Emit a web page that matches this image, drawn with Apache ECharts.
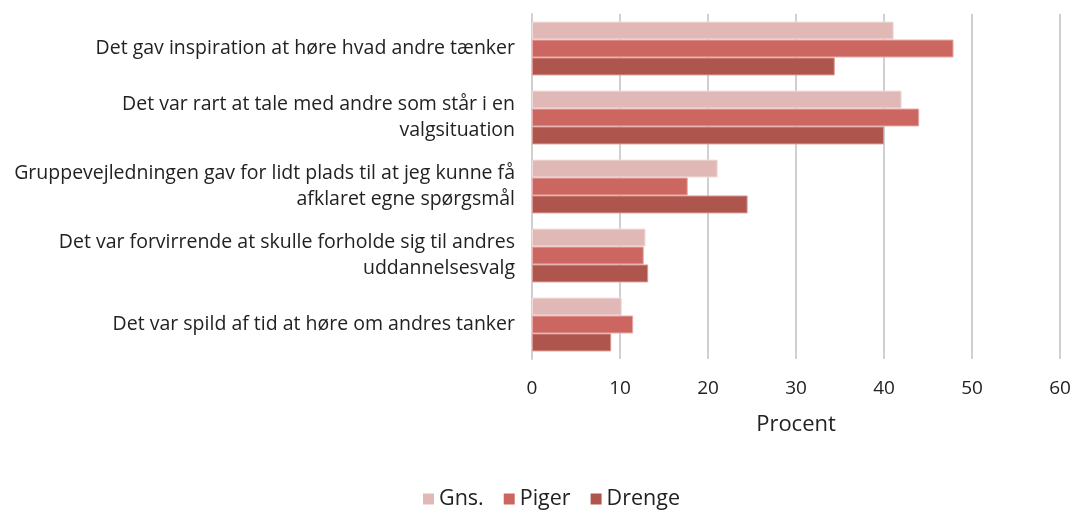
<!DOCTYPE html>
<html>
<head>
<meta charset="utf-8">
<script src="https://cdn.jsdelivr.net/npm/echarts@6/dist/echarts.min.js"></script>
<style>
    html, body { margin: 0; padding: 0; background: #fff; }
    .chart { width: 1075px; height: 513px; }
</style>
</head>
<body>
<div class="chart"></div>
<script>
var categories = [
    'Det gav inspiration at høre hvad andre tænker',
    'Det var rart at tale med andre som står i en\nvalgsituation',
    'Gruppevejledningen gav for lidt plads til at jeg kunne få\nafklaret egne spørgsmål',
    'Det var forvirrende at skulle forholde sig til andres\nuddannelsesvalg',
    'Det var spild af tid at høre om andres tanker'
];
var gns = [41.1, 42.0, 21.1, 12.9, 10.2];
var piger = [47.9, 44.0, 17.7, 12.7, 11.5];
var drenge = [34.4, 40.0, 24.5, 13.2, 9.0];
var xTicks = [0, 10, 20, 30, 40, 50, 60];

(function () {
    var myChart = echarts.init(document.querySelector('.chart'));
    var font = 'Open Sans';
    var option = {
        color: ['#e0b9b7', '#cc6660', '#ae554d'],
        textStyle: { fontFamily: font },
        legend: {
            data: ['Gns.', 'Piger', 'Drenge'],
            bottom: -2,
            left: 418,
            icon: 'rect',
            itemWidth: 11,
            itemHeight: 11,
            itemGap: 20,
            itemStyle: { borderWidth: 0 },
            textStyle: { fontSize: 21.5, color: '#222', fontFamily: font }
        },
        grid: {
            left: 532,
            right: 15,
            top: 14,
            bottom: 154,
            containLabel: false
        },
        xAxis: {
            type: 'value',
            min: xTicks[0],
            max: xTicks[xTicks.length - 1],
            interval: 10,
            name: 'Procent',
            nameLocation: 'middle',
            nameGap: 55,
            nameTextStyle: { fontSize: 22, color: '#222', fontFamily: font },
            axisLine: { show: false },
            axisTick: { show: false },
            axisLabel: { fontSize: 19, color: '#222', margin: 20, fontFamily: font },
            splitLine: { lineStyle: { color: '#d0d0d0', width: 2 } }
        },
        yAxis: {
            type: 'category',
            inverse: true,
            data: categories,
            axisLine: { show: true, lineStyle: { color: '#d0d0d0', width: 2 } },
            axisTick: { show: false },
            axisLabel: {
                fontSize: 19.5,
                color: '#222',
                margin: 17,
                lineHeight: 26,
                padding: [8, 0, 0, 0],
                backgroundColor: 'transparent',
                align: 'right',
                verticalAlign: 'middle',
                fontFamily: font
            }
        },
        series: [
            {
                name: 'Gns.',
                type: 'bar',
                data: gns,
                barGap: '0%',
                barCategoryGap: '22%',
                itemStyle: { borderColor: '#f2dcdb', borderWidth: 1 }
            },
            {
                name: 'Piger',
                type: 'bar',
                data: piger,
                barGap: '0%',
                barCategoryGap: '22%',
                itemStyle: { borderColor: '#e8aaa6', borderWidth: 1 }
            },
            {
                name: 'Drenge',
                type: 'bar',
                data: drenge,
                barGap: '0%',
                barCategoryGap: '22%',
                itemStyle: { borderColor: '#d99894', borderWidth: 1 }
            }
        ]
    };
    myChart.setOption(option);
    window.addEventListener('resize', function () {
        myChart.resize();
    });
})();
</script>
</body>
</html>
